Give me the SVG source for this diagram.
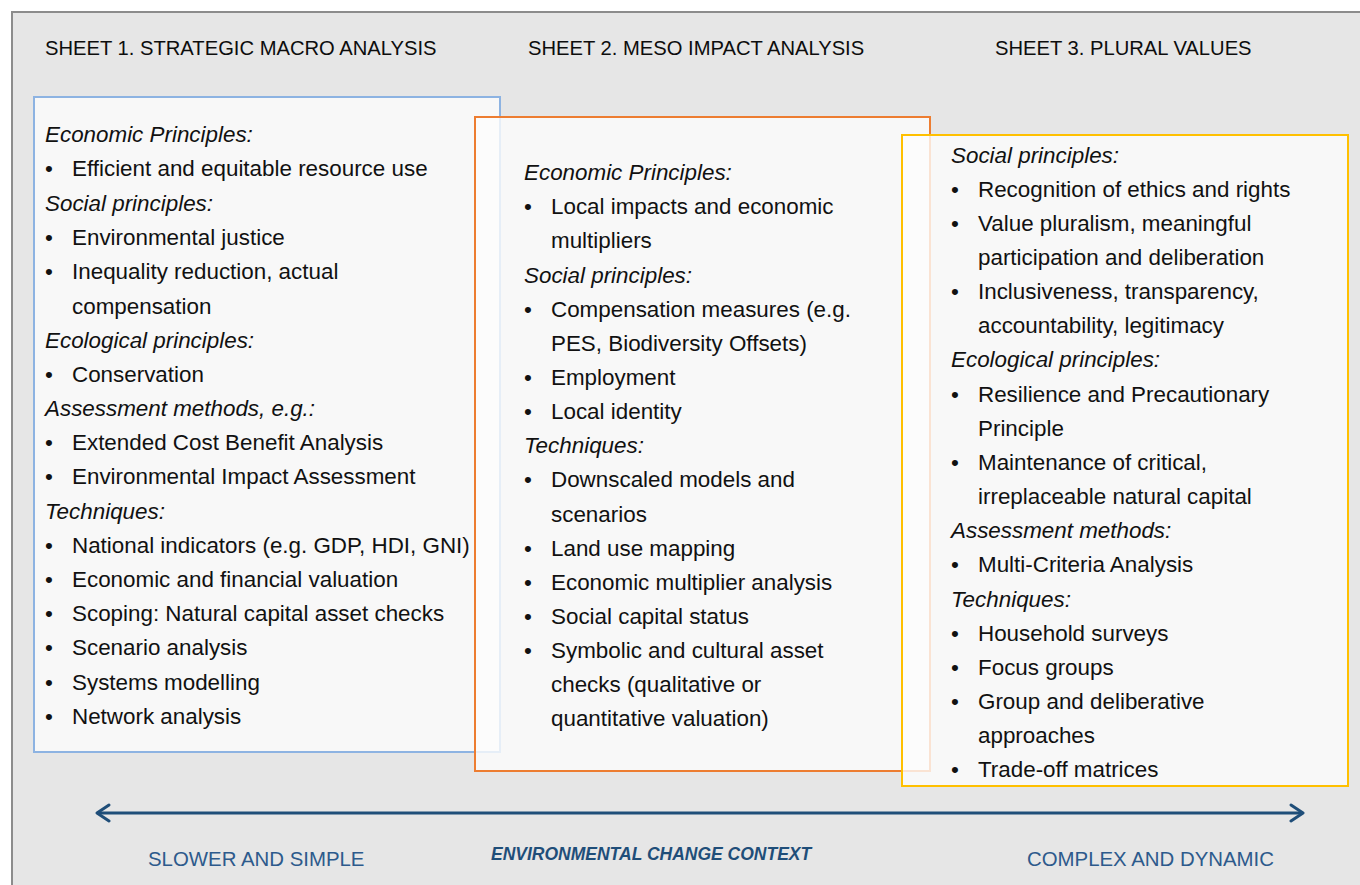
<svg xmlns="http://www.w3.org/2000/svg" width="1360" height="885" viewBox="0 0 1360 885">
<defs>
<style>
.hd{font-family:"Liberation Sans",Arial,sans-serif;font-size:20.2px;fill:#0d0d0d}
.t{font-family:"Liberation Sans",Arial,sans-serif;font-size:22.4px;fill:#111}
.i{font-style:italic}
.box{fill:#fdfdfd;fill-opacity:0.8;stroke-width:2}
.lab{font-family:"Liberation Sans",Arial,sans-serif;font-size:20.4px;fill:#2d5a8c}
.ctx{font-family:"Liberation Sans",Arial,sans-serif;font-size:17.5px;font-weight:bold;font-style:italic;fill:#1f4e79}
</style>
<marker id="ah" viewBox="0 0 16 20" refX="14" refY="10" markerWidth="16" markerHeight="20" markerUnits="userSpaceOnUse" orient="auto-start-reverse">
<path d="M2 2 L14 10 L2 18" fill="none" stroke="#1f4e79" stroke-width="3" stroke-linecap="round" stroke-linejoin="round"/>
</marker>
</defs>
<rect x="0" y="0" width="1360" height="885" fill="#ffffff"/>
<rect id="frame" x="12" y="12" width="1360" height="890" fill="#e6e6e6" stroke="#8c8c8c" stroke-width="2"/>
<g id="headers">
<text class="hd" x="45" y="55">SHEET 1. STRATEGIC MACRO ANALYSIS</text>
<text class="hd" x="528" y="55">SHEET 2. MESO IMPACT ANALYSIS</text>
<text class="hd" x="995" y="55">SHEET 3. PLURAL VALUES</text>
</g>
<g id="sheet1">
<rect class="box" x="34" y="97" width="466" height="655" stroke="#8db3e2"/>
<text class="t i" x="45" y="142">Economic Principles:</text>
<text class="t" x="45" y="176">•<tspan x="72">Efficient and equitable resource use</tspan></text>
<text class="t i" x="45" y="211">Social principles:</text>
<text class="t" x="45" y="245">•<tspan x="72">Environmental justice</tspan></text>
<text class="t" x="45" y="279">•<tspan x="72">Inequality reduction, actual</tspan></text>
<text class="t" x="72" y="314">compensation</text>
<text class="t i" x="45" y="348">Ecological principles:</text>
<text class="t" x="45" y="382">•<tspan x="72">Conservation</tspan></text>
<text class="t i" x="45" y="416">Assessment methods, e.g.:</text>
<text class="t" x="45" y="450">•<tspan x="72">Extended Cost Benefit Analysis</tspan></text>
<text class="t" x="45" y="484">•<tspan x="72">Environmental Impact Assessment</tspan></text>
<text class="t i" x="45" y="519">Techniques:</text>
<text class="t" x="45" y="553">•<tspan x="72">National indicators (e.g. GDP, HDI, GNI)</tspan></text>
<text class="t" x="45" y="587">•<tspan x="72">Economic and financial valuation</tspan></text>
<text class="t" x="45" y="621">•<tspan x="72">Scoping: Natural capital asset checks</tspan></text>
<text class="t" x="45" y="655">•<tspan x="72">Scenario analysis</tspan></text>
<text class="t" x="45" y="690">•<tspan x="72">Systems modelling</tspan></text>
<text class="t" x="45" y="724">•<tspan x="72">Network analysis</tspan></text>
</g>
<g id="sheet2">
<rect class="box" x="475" y="117" width="455" height="654" stroke="#ed7d31"/>
<text class="t i" x="524" y="180">Economic Principles:</text>
<text class="t" x="524" y="214">•<tspan x="551">Local impacts and economic</tspan></text>
<text class="t" x="551" y="248">multipliers</text>
<text class="t i" x="524" y="283">Social principles:</text>
<text class="t" x="524" y="317">•<tspan x="551">Compensation measures (e.g.</tspan></text>
<text class="t" x="551" y="351">PES, Biodiversity Offsets)</text>
<text class="t" x="524" y="385">•<tspan x="551">Employment</tspan></text>
<text class="t" x="524" y="419">•<tspan x="551">Local identity</tspan></text>
<text class="t i" x="524" y="453">Techniques:</text>
<text class="t" x="524" y="487">•<tspan x="551">Downscaled models and</tspan></text>
<text class="t" x="551" y="522">scenarios</text>
<text class="t" x="524" y="556">•<tspan x="551">Land use mapping</tspan></text>
<text class="t" x="524" y="590">•<tspan x="551">Economic multiplier analysis</tspan></text>
<text class="t" x="524" y="624">•<tspan x="551">Social capital status</tspan></text>
<text class="t" x="524" y="658">•<tspan x="551">Symbolic and cultural asset</tspan></text>
<text class="t" x="551" y="692">checks (qualitative or</text>
<text class="t" x="551" y="726">quantitative valuation)</text>
</g>
<g id="sheet3">
<rect class="box" x="902" y="135" width="446" height="651" stroke="#ffc000"/>
<text class="t i" x="951" y="163">Social principles:</text>
<text class="t" x="951" y="197">•<tspan x="978">Recognition of ethics and rights</tspan></text>
<text class="t" x="951" y="231">•<tspan x="978">Value pluralism, meaningful</tspan></text>
<text class="t" x="978" y="265">participation and deliberation</text>
<text class="t" x="951" y="299">•<tspan x="978">Inclusiveness, transparency,</tspan></text>
<text class="t" x="978" y="333">accountability, legitimacy</text>
<text class="t i" x="951" y="367">Ecological principles:</text>
<text class="t" x="951" y="402">•<tspan x="978">Resilience and Precautionary</tspan></text>
<text class="t" x="978" y="436">Principle</text>
<text class="t" x="951" y="470">•<tspan x="978">Maintenance of critical,</tspan></text>
<text class="t" x="978" y="504">irreplaceable natural capital</text>
<text class="t i" x="951" y="538">Assessment methods:</text>
<text class="t" x="951" y="572">•<tspan x="978">Multi-Criteria Analysis</tspan></text>
<text class="t i" x="951" y="607">Techniques:</text>
<text class="t" x="951" y="641">•<tspan x="978">Household surveys</tspan></text>
<text class="t" x="951" y="675">•<tspan x="978">Focus groups</tspan></text>
<text class="t" x="951" y="709">•<tspan x="978">Group and deliberative</tspan></text>
<text class="t" x="978" y="743">approaches</text>
<text class="t" x="951" y="777">•<tspan x="978">Trade-off matrices</tspan></text>
</g>
<g id="connectors">
<line x1="97" y1="813" x2="1303" y2="813" stroke="#1f4e79" stroke-width="3" marker-start="url(#ah)" marker-end="url(#ah)"/>
</g>
<g id="labels">
<text class="lab" x="148" y="866">SLOWER AND SIMPLE</text>
<text class="ctx" x="491" y="860">ENVIRONMENTAL CHANGE CONTEXT</text>
<text class="lab" x="1027" y="866">COMPLEX AND DYNAMIC</text>
</g>
</svg>
